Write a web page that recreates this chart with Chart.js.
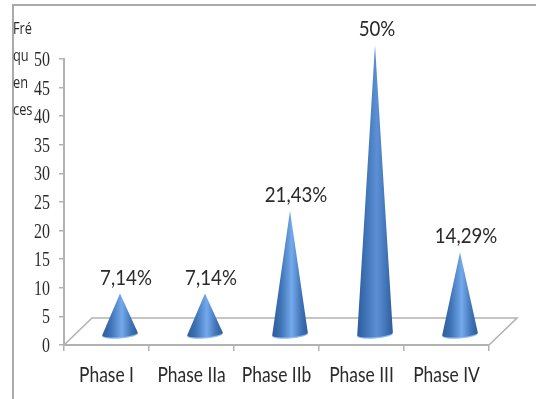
<!DOCTYPE html>
<html>
<head>
<meta charset="utf-8">
<title>Fréquences par phase</title>
<script src="https://cdn.jsdelivr.net/npm/chart.js@4"></script>
<style>
    html, body { margin: 0; padding: 0; background: #fff; }
    #wrap { position: relative; width: 536px; height: 399px; overflow: hidden; }
    #frame { position: absolute; left: 12px; top: 4px; width: 600px; height: 500px;
             border-left: 2px solid #aaa; border-top: 2px solid #aaa; }
    #flowChart { position: absolute; left: 0; top: 0; }
    #axis-title { position: absolute; left: 13px; top: 15px; color: #2a2a2a;
                  font: 16px/27px "Open Sans", sans-serif;
                  transform: scaleX(0.8); transform-origin: left top; }
</style>
</head>
<body>
<div id="wrap">
    <div id="frame"></div>
    <canvas id="flowChart" width="536" height="399"></canvas>
    <div id="axis-title"><div>Fré</div><div>qu</div><div>en</div><div>ces</div></div>
</div>
<script>
// Data
const phases = ['Phase I', 'Phase IIa', 'Phase IIb', 'Phase III', 'Phase IV'];
const frequencies = [7.14, 7.14, 21.43, 50, 14.29];
const yTicks = [0, 5, 10, 15, 20, 25, 30, 35, 40, 45, 50];

// Depth of the fake 3D floor, in pixels
const DEPTH_X = 28;
const DEPTH_Y = 27;
// Cones stand in the middle of the floor
const CONE_DX = 13.5;
const CONE_DY = -10;
const CONE_RISE = 1.014;
const LINE_COLOR = '#b2b2b2';
const TEXT_COLOR = '#2a2a2a';
const LABEL_FONT = '"Lato", sans-serif';
const NUMBER_FONT = '"Liberation Serif", serif';

// fillText squeezes the string when it is wider than maxWidth
function drawNarrowText(ctx, text, x, y, squeeze) {
    ctx.fillText(text, x, y, ctx.measureText(text).width * squeeze);
}

// Bar controller that paints each bar as a cone
class ConeController extends Chart.BarController {
    draw() {
        const ctx = this.chart.ctx;
        const bars = this._cachedMeta.data;
        bars.forEach((bar, i) => {
            const cx = bar.x + CONE_DX;
            const baseY = bar.base + CONE_DY;
            const apexY = baseY - (bar.base - bar.y) * CONE_RISE;
            const half = bar.width / 2;
            const tall = baseY - apexY > 200;

            const body = ctx.createLinearGradient(cx - half, 0, cx + half, 0);
            body.addColorStop(0, '#2d5c9a');
            body.addColorStop(0.25, '#3f74b6');
            body.addColorStop(0.55, tall ? '#5c90d4' : '#74aaec');
            body.addColorStop(0.8, '#4276b8');
            body.addColorStop(1, '#2d5c9a');

            // Rim showing under the base
            ctx.save();
            ctx.fillStyle = '#8fbdf0';
            ctx.beginPath();
            ctx.ellipse(cx, baseY + 0.6, half, 3.6, -0.08, 0, Math.PI * 2);
            ctx.fill();

            ctx.fillStyle = body;
            ctx.beginPath();
            ctx.moveTo(cx, apexY);
            ctx.lineTo(cx + half, baseY - 1.5);
            ctx.ellipse(cx, baseY - 0.4, half, 3.4, -0.08, 0, Math.PI);
            ctx.lineTo(cx, apexY);
            ctx.closePath();
            ctx.fill();

            // Percentage above the tip, built from the same value
            ctx.fillStyle = TEXT_COLOR;
            ctx.font = '22px ' + LABEL_FONT;
            ctx.textAlign = 'center';
            ctx.textBaseline = 'alphabetic';
            const label = String(frequencies[i]).replace('.', ',') + '%';
            const nudge = frequencies[i] >= 50 ? 2 : 6;
            drawNarrowText(ctx, label, cx + nudge, apexY - 9, 0.85);
            ctx.restore();
        });
    }
}
ConeController.id = 'cone';
ConeController.defaults = Chart.BarController.defaults;
Chart.register(ConeController);

// Floor drawn from the axis corners
const floorPlugin = {
    id: 'floor',
    beforeDatasetsDraw(chart) {
        const { ctx, scales: { x, y } } = chart;
        const zero = y.getPixelForValue(0);
        ctx.save();
        ctx.strokeStyle = LINE_COLOR;
        ctx.lineWidth = 1.6;
        ctx.beginPath();
        ctx.moveTo(x.left, zero);
        ctx.lineTo(x.left + DEPTH_X, zero - DEPTH_Y);
        ctx.lineTo(x.right + DEPTH_X, zero - DEPTH_Y);
        ctx.lineTo(x.right, zero);
        ctx.stroke();
        ctx.restore();
    }
};

// Tick labels are tall and narrow, so they are written here from the scales
const axisLabelPlugin = {
    id: 'axisLabels',
    afterDraw(chart) {
        const { ctx, scales: { x, y } } = chart;
        ctx.save();
        ctx.fillStyle = TEXT_COLOR;

        ctx.font = '21px ' + NUMBER_FONT;
        ctx.textAlign = 'right';
        ctx.textBaseline = 'alphabetic';
        yTicks.forEach(v => {
            drawNarrowText(ctx, String(v), 50, y.getPixelForValue(v) + 7, 0.76);
        });

        ctx.font = '21px ' + LABEL_FONT;
        ctx.textAlign = 'center';
        phases.forEach((name, i) => {
            drawNarrowText(ctx, name, x.getPixelForValue(i), 382, 0.83);
        });
        ctx.restore();
    }
};

new Chart(document.getElementById('flowChart'), {
    type: 'cone',
    data: {
        labels: phases,
        datasets: [{
            label: 'Fréquences',
            data: frequencies,
            clip: false,
            categoryPercentage: 1,
            barPercentage: 0.42
        }]
    },
    options: {
        responsive: false,
        animation: false,
        layout: { padding: { top: 59, right: 47, left: 0, bottom: 0 } },
        plugins: { legend: { display: false }, tooltip: { enabled: false } },
        scales: {
            x: {
                type: 'category',
                offset: true,
                afterFit(scale) { scale.height = 54; },
                border: { color: LINE_COLOR, width: 2 },
                grid: { offset: true, drawOnChartArea: false, color: LINE_COLOR, tickLength: 6, lineWidth: 1.5 },
                ticks: { display: false }
            },
            y: {
                type: 'linear',
                min: 0,
                max: 50,
                afterFit(scale) { scale.width = 64; },
                afterBuildTicks(scale) { scale.ticks = yTicks.map(v => ({ value: v })); },
                border: { color: LINE_COLOR, width: 2 },
                grid: { drawOnChartArea: false, color: LINE_COLOR, tickLength: 5, lineWidth: 1.5 },
                ticks: { display: false }
            }
        }
    },
    plugins: [floorPlugin, axisLabelPlugin]
});
</script>
</body>
</html>
